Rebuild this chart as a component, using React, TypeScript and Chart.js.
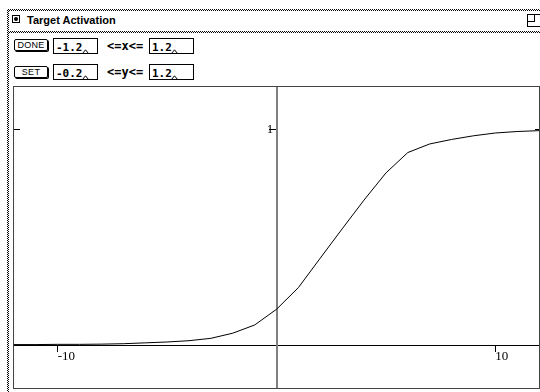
import React, { useEffect, useRef } from "react";
import { Chart, registerables } from "chart.js";

Chart.register(...registerables);

// ---- data ----
const netInput = [-12, -11, -10, -9, -8, -7, -6, -5, -4, -3, -2, -1, 0, 1, 2, 3, 4, 5, 6, 7, 8, 9, 10, 11, 12];
const activation = [
  0.002, 0.002, 0.003, 0.003, 0.004, 0.006, 0.010, 0.014, 0.020, 0.031, 0.055, 0.093, 0.166,
  0.267, 0.404, 0.54, 0.674, 0.80, 0.895, 0.935, 0.956, 0.973, 0.986, 0.993, 0.997,
];
const xTickValues = [-10, 10];
const yTickValues = [0, 1];
const yTickLabels = ["", "1 "];
const xRange = [-12, 12];
const yRange = [-0.2, 1.2];
const rangeFieldText = ["-1.2", "1.2", "-0.2", "1.2"];
const rangeRelText = ["<=x<=", "<=y<="];
const buttonText = ["DONE", "SET"];
const titleText = "Target Activation";

const serif = "'Liberation Serif', 'DejaVu Serif', serif";
const sans = "'Liberation Sans', Arial, sans-serif";
const mono = "'DejaVu Sans Mono', 'Liberation Mono', monospace";
const stipple = "repeating-conic-gradient(#000 0% 25%, #fff 0% 50%) 0 0 / 2px 2px";

const zeroPad = (s: any) => {
  s.paddingTop = 0;
  s.paddingBottom = 0;
  s.paddingLeft = 0;
  s.paddingRight = 0;
};

const Caret = ({ left, top }: { left: number; top: number }) => (
  <svg style={{ position: "absolute", left, top }} width={7} height={5}>
    <polyline points="0.5,4.5 3.5,0.8 6.5,4.5" fill="none" stroke="#000" strokeWidth={1} />
  </svg>
);

const Field = ({ left, top, text }: { left: number; top: number; text: string }) => (
  <>
    <div
      style={{
        position: "absolute",
        left,
        top,
        width: 43,
        height: 14,
        border: "1px solid #000",
        background: "#fff",
      }}
    />
    <div
      style={{
        position: "absolute",
        left: left + 3,
        top: top + 3,
        font: `bold 11px ${mono}`,
        lineHeight: "13px",
        whiteSpace: "pre",
      }}
    >
      {text}
    </div>
    <Caret left={left + 3 + text.length * 6.62 - 0.5} top={top + 11} />
  </>
);

const Button = ({ left, top, text }: { left: number; top: number; text: string }) => (
  <div
    style={{
      position: "absolute",
      left,
      top,
      width: 32,
      height: 10,
      border: "1px solid #000",
      borderRadius: 2,
      boxShadow: "1px 1px 0 #000",
      font: `9px ${sans}`,
      lineHeight: "10px",
      textAlign: "center",
      letterSpacing: 0.3,
    }}
  >
    {text}
  </div>
);

export default function App() {
  const ref = useRef<HTMLCanvasElement>(null);

  useEffect(() => {
    const canvas = ref.current!;
    const chart = new Chart(canvas, {
      type: "scatter",
      data: {
        datasets: [
          {
            data: netInput.map((x, i) => ({ x, y: activation[i] })),
            showLine: true,
            borderColor: "#000",
            borderWidth: 1,
            pointRadius: 0,
            tension: 0,
          },
        ],
      },
      options: {
        responsive: false,
        animation: false,
        events: [],
        layout: { padding: 0 },
        plugins: { legend: { display: false }, tooltip: { enabled: false } },
        scales: {
          x: {
            type: "linear",
            min: xRange[0],
            max: xRange[1],
            position: { y: 0 } as any,
            afterBuildTicks: (s: any) => {
              s.ticks = xTickValues.map((v) => ({ value: v }));
            },
            afterFit: zeroPad,
            grid: { drawOnChartArea: false, drawTicks: true, tickLength: 6, color: "#000", lineWidth: 1 },
            border: { display: true, color: "#000", width: 1 },
            ticks: {
              align: "start",
              padding: -2,
              color: "#000",
              autoSkip: false,
              maxRotation: 0,
              font: { family: serif, size: 13 },
              callback: (v: any) => String(v),
            },
          },
          y: {
            type: "linear",
            min: yRange[0],
            max: yRange[1],
            position: { x: 0 } as any,
            afterBuildTicks: (s: any) => {
              s.ticks = yTickValues.map((v) => ({ value: v }));
            },
            afterFit: zeroPad,
            grid: { drawOnChartArea: false, drawTicks: true, tickLength: 7, color: "#000", lineWidth: 1 },
            border: { display: true, color: "#808080", width: 2 },
            ticks: {
              padding: 0,
              color: "#000",
              autoSkip: false,
              font: { family: serif, size: 13 },
              callback: (v: any) => yTickLabels[yTickValues.indexOf(Number(v))] ?? "",
            },
          },
          yLeftEdge: {
            type: "linear",
            min: yRange[0],
            max: yRange[1],
            position: { x: -11.72 } as any,
            afterBuildTicks: (s: any) => {
              s.ticks = yTickValues.map((v) => ({ value: v }));
            },
            afterFit: zeroPad,
            grid: { drawOnChartArea: false, drawTicks: true, tickLength: 6, color: "#000", lineWidth: 1 },
            border: { display: false },
            ticks: { display: false },
          },
          yRightEdge: {
            type: "linear",
            min: yRange[0],
            max: yRange[1],
            position: { x: 12 } as any,
            afterBuildTicks: (s: any) => {
              s.ticks = yTickValues.map((v) => ({ value: v }));
            },
            afterFit: zeroPad,
            grid: { drawOnChartArea: false, drawTicks: true, tickLength: 4, color: "#000", lineWidth: 1 },
            border: { display: false },
            ticks: { display: false },
          },
        },
      } as any,
    });
    return () => chart.destroy();
  }, []);

  return (
    <div
      style={{
        position: "fixed",
        left: 0,
        top: 0,
        width: 540,
        height: 392,
        background: "#fff",
        overflow: "hidden",
        fontFamily: sans,
        color: "#000",
      }}
    >
      {/* window frame (stippled) */}
      <div style={{ position: "absolute", left: 7, top: 9, width: 533, height: 2, background: stipple }} />
      <div style={{ position: "absolute", left: 7, top: 9, width: 2, height: 383, background: stipple }} />
      <div style={{ position: "absolute", left: 9, top: 31, width: 531, height: 2, background: stipple }} />

      {/* title bar */}
      <div
        style={{
          position: "absolute",
          left: 12,
          top: 15,
          width: 6,
          height: 6,
          border: "1px solid #000",
        }}
      >
        <div
          style={{
            position: "absolute",
            left: 1,
            top: 1,
            width: 4,
            height: 4,
            borderRadius: "50%",
            background: "#000",
          }}
        />
      </div>
      <div
        style={{
          position: "absolute",
          left: 27,
          top: 14,
          font: `bold 11px ${sans}`,
          lineHeight: "12px",
          whiteSpace: "pre",
        }}
      >
        {titleText}
      </div>
      <div
        style={{
          position: "absolute",
          left: 527,
          top: 14,
          width: 14,
          height: 11,
          border: "1px solid #000",
        }}
      />
      <div
        style={{
          position: "absolute",
          left: 527,
          top: 14,
          width: 6,
          height: 6,
          border: "1px solid #000",
        }}
      />

      {/* controls */}
      <Button left={14} top={39} text={buttonText[0]} />
      <Field left={53} top={38} text={rangeFieldText[0]} />
      <div style={{ position: "absolute", left: 107, top: 39, font: `bold 12px ${mono}`, lineHeight: "14px", whiteSpace: "pre" }}>
        {rangeRelText[0]}
      </div>
      <Field left={149} top={38} text={rangeFieldText[1]} />

      <Button left={14} top={66} text={buttonText[1]} />
      <Field left={53} top={64} text={rangeFieldText[2]} />
      <div style={{ position: "absolute", left: 107, top: 65, font: `bold 12px ${mono}`, lineHeight: "14px", whiteSpace: "pre" }}>
        {rangeRelText[1]}
      </div>
      <Field left={149} top={64} text={rangeFieldText[3]} />

      {/* plot frame */}
      <div
        style={{
          position: "absolute",
          left: 13,
          top: 86,
          width: 525,
          height: 301,
          border: "1px solid #444",
        }}
      >
        <canvas ref={ref} width={525} height={301} style={{ display: "block", width: 525, height: 301 }} />
      </div>
    </div>
  );
}
